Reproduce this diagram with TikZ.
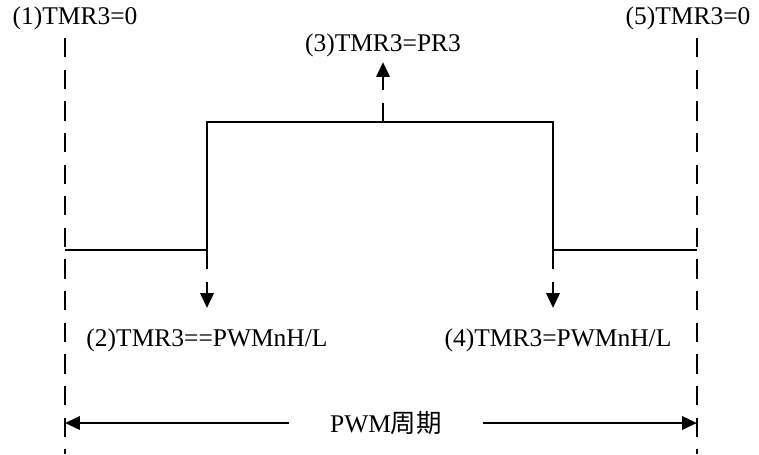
\documentclass[tikz,border=0pt]{standalone}
\usepackage{fontspec}
\setmainfont{Liberation Serif}
\newfontfamily\cjk{Noto Sans CJK SC}
\usetikzlibrary{arrows.meta}
\begin{document}
\begin{tikzpicture}[x=0.02cm, y=-0.02cm,
        every node/.style={font=\fontsize{14.5}{17}\selectfont, inner sep=1pt},
        >={Triangle[length=8.5pt, width=7.5pt]},
        guide/.style={line width=1.6pt, dash pattern=on 11pt off 7pt},
        wave/.style={line width=1.6pt}]
    \useasboundingbox (0,0) rectangle (759,454);
    % labels
    \node (t1) at (75,18) {(1)TMR3=0};
    \node (t5) at (688,18) {(5)TMR3=0};
    \node (t3) at (383,45) {(3)TMR3=PR3};
    \node (t2) at (207,340) {(2)TMR3==PWMnH/L};
    \node (t4) at (558,340) {(4)TMR3=PWMnH/L};
    \node[inner xsep=23pt] (per) at (386,423) {PWM{\cjk 周期}};
    % guide lines
    \coordinate (L0) at (65,38);
    \coordinate (L1) at (65,454);
    \coordinate (R0) at (697,38);
    \coordinate (R1) at (697,454);
    \draw[guide] (L0) -- (L1);
    \draw[guide] (R0) -- (R1);
    % waveform
    \coordinate (w0) at (65,250);
    \coordinate (w1) at (207,250);
    \coordinate (w2) at (207,122);
    \coordinate (w3) at (553,122);
    \coordinate (w4) at (553,250);
    \coordinate (w5) at (697,250);
    \draw[wave] (w0) -- (w1) -- (w2) -- (w3) -- (w4) -- (w5);
    % event markers
    \coordinate (m3) at (383,122);
    \coordinate (a3) at (383,62);
    \coordinate (a2) at (207,308);
    \coordinate (a4) at (553,308);
    \draw[guide, ->] (m3) -- (a3);
    \draw[guide, ->] (w1) -- (a2);
    \draw[guide, ->] (w4) -- (a4);
    % period
    \coordinate (b0) at (65,423);
    \coordinate (b1) at (697,423);
    \draw[wave, ->] (per) -- (b0);
    \draw[wave, ->] (per) -- (b1);
\end{tikzpicture}
\end{document}
